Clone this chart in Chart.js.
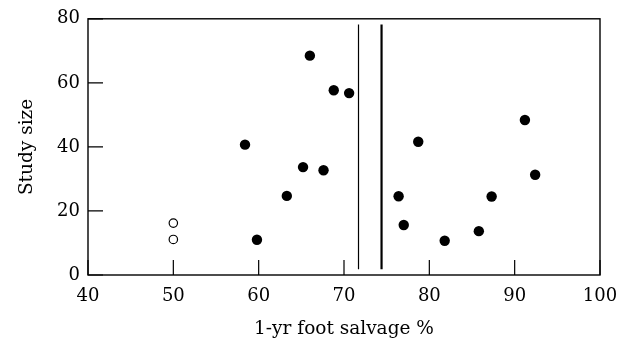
<!DOCTYPE html>
<html>
<head>
<meta charset="utf-8">
<script src="https://cdn.jsdelivr.net/npm/chart.js@4"></script>
<style>
  html, body { margin: 0; padding: 0; background: #fff; }
</style>
</head>
<body>
<canvas id="salvageChart" width="630" height="343"></canvas>
<script>
// Foot salvage vs study size
const salvageFilled = [58.4, 59.8, 63.3, 65.2, 66.0, 67.6, 68.8, 70.6, 76.4, 77.0, 78.7, 81.8, 85.8, 87.3, 91.2, 92.4];
const sizeFilled    = [40.7, 11.0, 24.7, 33.7, 68.5, 32.7, 57.7, 56.8, 24.6, 15.6, 41.6, 10.7, 13.7, 24.5, 48.4, 31.3];
const salvageOpen = [50, 50];
const sizeOpen    = [16.2, 11.1];

// vertical reference lines (thin, thick)
const refLineX = [71.7, 74.4];
const refLineY = [1.8, 78.2];

const xTicks = [40, 50, 60, 70, 80, 90, 100];
const yTicks = [0, 20, 40, 60, 80];

const pts = (xs, ys) => xs.map((x, i) => ({ x: x, y: ys[i] }));
const font = { family: 'DejaVu Serif', size: 18 };
const titleFont = { family: 'DejaVu Serif', size: 18.5 };

// frame + inward ticks
const framePlugin = {
    id: 'frame',
    afterDatasetsDraw(chart) {
        const { ctx, chartArea: a, scales } = chart;
        ctx.save();
        ctx.strokeStyle = '#000';
        ctx.lineWidth = 1.4;
        ctx.strokeRect(a.left, a.top, a.right - a.left, a.bottom - a.top);
        ctx.lineWidth = 1.2;
        ctx.beginPath();
        xTicks.forEach(v => {
            const px = scales.x.getPixelForValue(v);
            ctx.moveTo(px, a.bottom);
            ctx.lineTo(px, a.bottom - 15);
        });
        yTicks.forEach(v => {
            const py = scales.y.getPixelForValue(v);
            ctx.moveTo(a.left, py);
            ctx.lineTo(a.left + 15, py);
        });
        ctx.stroke();
        ctx.restore();
    }
};

const ctx = document.getElementById('salvageChart').getContext('2d');
const salvageChart = new Chart(ctx, {
    type: 'scatter',
    data: {
        datasets: [
            {
                data: pts(salvageFilled, sizeFilled),
                pointRadius: 5.2,
                pointBackgroundColor: '#000',
                pointBorderColor: '#000',
                pointBorderWidth: 0
            },
            {
                data: pts(salvageOpen, sizeOpen),
                pointRadius: 4.2,
                pointBackgroundColor: '#fff',
                pointBorderColor: '#000',
                pointBorderWidth: 1.2
            },
            {
                data: pts([refLineX[0], refLineX[0]], refLineY),
                showLine: true,
                pointRadius: 0,
                borderColor: '#000',
                borderWidth: 1.2
            },
            {
                data: pts([refLineX[1], refLineX[1]], refLineY),
                showLine: true,
                pointRadius: 0,
                borderColor: '#000',
                borderWidth: 2.2
            }
        ]
    },
    options: {
        responsive: false,
        animation: false,
        layout: { padding: { top: 15, right: 30, left: 0, bottom: 0 } },
        plugins: { legend: { display: false }, tooltip: { enabled: false } },
        scales: {
            x: {
                type: 'linear',
                min: 40,
                max: 100,
                afterBuildTicks: s => { s.ticks = xTicks.map(v => ({ value: v })); },
                afterFit: s => { s.height = 68; },
                grid: { display: false, drawTicks: false },
                border: { display: false },
                ticks: { color: '#000', font: font, padding: 11, maxRotation: 0 },
                title: { display: true, text: '1-yr foot salvage %', color: '#000', font: titleFont, padding: { top: 4, bottom: 3 } }
            },
            y: {
                type: 'linear',
                min: 0,
                max: 80,
                afterBuildTicks: s => { s.ticks = yTicks.map(v => ({ value: v })); },
                afterFit: s => { s.width = 88; },
                grid: { display: false, drawTicks: false },
                border: { display: false },
                ticks: { color: '#000', font: font, padding: 8 },
                title: { display: true, text: 'Study size', color: '#000', font: titleFont, padding: { top: 16, bottom: 4 } }
            }
        }
    },
    plugins: [framePlugin]
});
</script>
</body>
</html>
